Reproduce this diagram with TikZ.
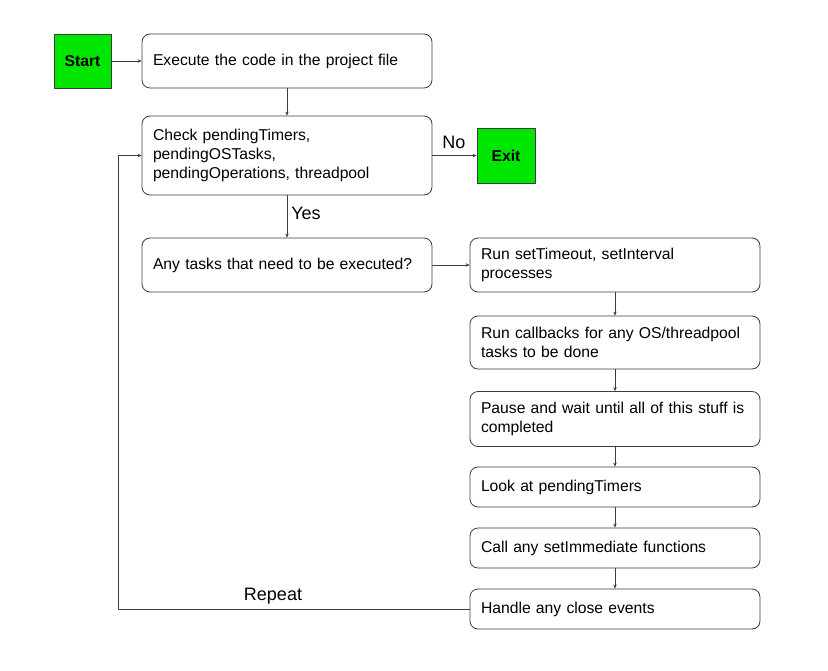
\documentclass[tikz,border=0pt]{standalone}
\usepackage{fontspec}
\setmainfont{Liberation Sans}
\usepackage{tikz}
\definecolor{boxgreen}{RGB}{0,230,0}
\definecolor{linegray}{RGB}{60,60,60}
\usetikzlibrary{arrows.meta}
\usetikzlibrary{positioning}

\tikzset{
    stepbox/.style = {draw=linegray, line width=0.8pt, rounded corners=8pt,
        minimum width=290pt, text width=268pt, align=left, inner xsep=11pt,
        font=\fontsize{15.7}{19}\selectfont},
    termbox/.style = {draw=linegray, line width=0.8pt, fill=boxgreen,
        font=\fontsize{15.7}{19}\selectfont\bfseries},
    flow/.style = {draw=linegray, line width=0.7pt, -{Stealth[length=4pt,width=3.5pt]}},
    branch/.style = {font=\fontsize{18}{20}\selectfont}
}

\begin{document}
\begin{tikzpicture}[x=1pt, y=-1pt]
        \useasboundingbox (0,0) rectangle (828,671);
        % left column
        \node[termbox, minimum width=57pt, minimum height=54pt] (start) at (82.5,61) {Start};
        \node[stepbox, minimum height=54pt] (exec) at (287,61) {Execute the code in the project file};
        \node[stepbox, minimum height=79pt] (check) at (287,155.5) {Check pendingTimers,\\pendingOSTasks,\\pendingOperations, threadpool};
        \node[termbox, minimum width=58pt, minimum height=55pt] (exit) at (506,155.5) {Exit};
        \node[stepbox, minimum height=54pt] (tasks) at (287,265) {Any tasks that need to be executed?};
        % right column
        \node[stepbox, minimum height=54pt] (timers) at (615,265) {Run setTimeout, setInterval\\processes};
        \node[stepbox, minimum height=53pt] (callbacks) at (615,342.5) {Run callbacks for any OS/threadpool\\tasks to be done};
        \node[stepbox, minimum height=55pt] (pause) at (615,419) {Pause and wait until all of this stuff is\\completed};
        \node[stepbox, minimum height=40pt] (look) at (615,487) {Look at pendingTimers};
        \node[stepbox, minimum height=40pt] (immediate) at (615,548) {Call any setImmediate functions};
        \node[stepbox, minimum height=40pt] (close) at (615,609) {Handle any close events};
        % labels
        \node[branch] (no) at (454,142) {No};
        \node[branch] (yes) at (306,213) {Yes};
        \node[branch] (repeat) at (273,596) {Repeat};
        \coordinate (loop) at (118,609);
        % connectors
        \draw[flow] (start) -- (exec);
        \draw[flow] (exec) -- (check);
        \draw[flow] (check) -- (exit);
        \draw[flow] (check) -- (tasks);
        \draw[flow] (tasks) -- (timers);
        \draw[flow] (timers) -- (callbacks);
        \draw[flow] (callbacks) -- (pause);
        \draw[flow] (pause) -- (look);
        \draw[flow] (look) -- (immediate);
        \draw[flow] (immediate) -- (close);
        \draw[flow] (close.west) -- (loop) |- (check.west);
    \end{tikzpicture}
\end{document}
